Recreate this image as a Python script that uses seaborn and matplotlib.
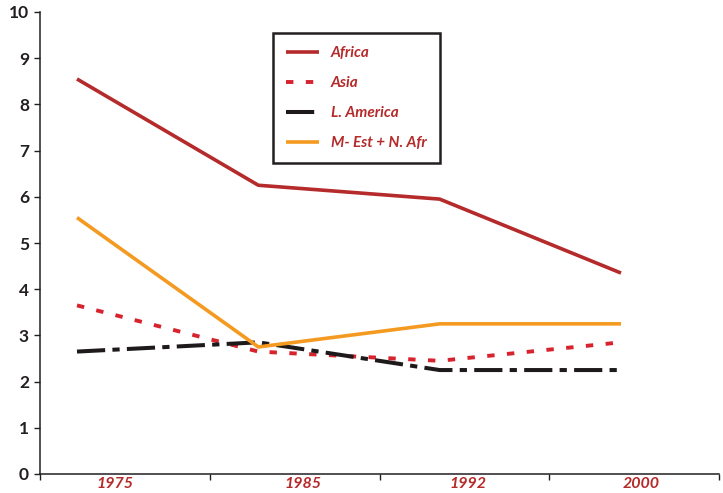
import matplotlib
matplotlib.use("Agg")
import matplotlib.pyplot as plt
import seaborn as sns
import pandas as pd
import numpy as np

years = ["1975", "1985", "1992", "2000"]
africa = [8.55, 6.25, 5.95, 4.35]
asia = [3.65, 2.65, 2.45, 2.85]
latam = [2.65, 2.85, 2.25, 2.25]
mest = [5.55, 2.75, 3.25, 3.25]
series_names = ["Africa", "Asia", "L. America", "M- Est + N. Afr"]
yticks = list(range(0, 11))

sns.set_theme(style="white")
plt.rcParams["font.family"] = ["Lato", "DejaVu Sans"]

fig = plt.figure(figsize=(7.23, 4.93), dpi=100)
ax = fig.add_axes([40/723, 19/493, 679/723, 462/493])

idx = np.arange(len(years))
df = pd.DataFrame({
    "pos": np.tile(idx, 4),
    "value": africa + asia + latam + mest,
    "series": np.repeat(series_names, len(years)),
})

colors = {"Africa": "#B52A2A", "Asia": "#D7232E", "L. America": "#1E1A1B", "M- Est + N. Afr": "#F49A21"}
styles = {"Africa": (None, 2.6), "Asia": ((1.9, 3.2), 2.8), "L. America": ((7, 1.8, 1.8, 1.8), 2.9),
          "M- Est + N. Afr": (None, 2.6)}

for name in series_names:
    sub = df[df["series"] == name]
    dash, lw = styles[name]
    sns.lineplot(data=sub, x="pos", y="value", ax=ax, color=colors[name], linewidth=lw,
                 label=name, legend=False)
    line = ax.lines[-1]
    if dash is not None:
        line.set_dashes(dash)
    line.set_solid_capstyle("butt")
    line.set_dash_capstyle("butt")

# x-scale: data points sit at 77..621 px, axis 40..719 px
ppu = (621 - 77) / 3.0
ax.set_xlim(-(77 - 40) / ppu, 3 + (719 - 621) / ppu)
ax.set_ylim(0, 10)
ax.set_yticks(yticks)
ax.set_yticklabels([str(t) for t in yticks])

bounds = [(p - 77) / ppu for p in (40, 210, 380, 549, 719)]
ax.set_xticks(bounds)
ax.set_xticklabels([""] * len(bounds))
label_px = [115, 303, 468, 641]
ax.set_xticks([(p - 77) / ppu for p in label_px], minor=True)
ax.set_xticklabels(years, minor=True)
ax.tick_params(axis="x", which="minor", length=0, pad=2, labelsize=11.5, labelcolor="#B52A2A")
for t in ax.get_xticklabels(minor=True):
    t.set_fontstyle("italic"); t.set_fontweight("bold")
ax.tick_params(axis="x", which="major", length=4, width=1, color="#231F20", direction="out", bottom=True)
ax.tick_params(axis="y", length=4, width=1, color="#231F20", direction="out", left=True,
               labelsize=12.5, labelcolor="#231F20", pad=4)
for t in ax.get_yticklabels():
    t.set_fontweight("bold")

for s in ["top", "right"]:
    ax.spines[s].set_visible(False)
for s in ["left", "bottom"]:
    ax.spines[s].set_color("#231F20")
    ax.spines[s].set_linewidth(1.1)
ax.set_xlabel("")
ax.set_ylabel("")

leg = ax.legend(loc="upper left", bbox_to_anchor=((273 - 40) / 679, (474 - 33) / 462),
                frameon=True, fancybox=False, edgecolor="#231F20", framealpha=1,
                handlelength=2.15, handletextpad=0.8, labelspacing=1.05, borderpad=0.85,
                fontsize=11, borderaxespad=0)
leg.get_frame().set_linewidth(1.8)
for t in leg.get_texts():
    t.set_color("#B52A2A"); t.set_fontstyle("italic"); t.set_fontweight("bold")

fig.savefig("out.png", dpi=100)
